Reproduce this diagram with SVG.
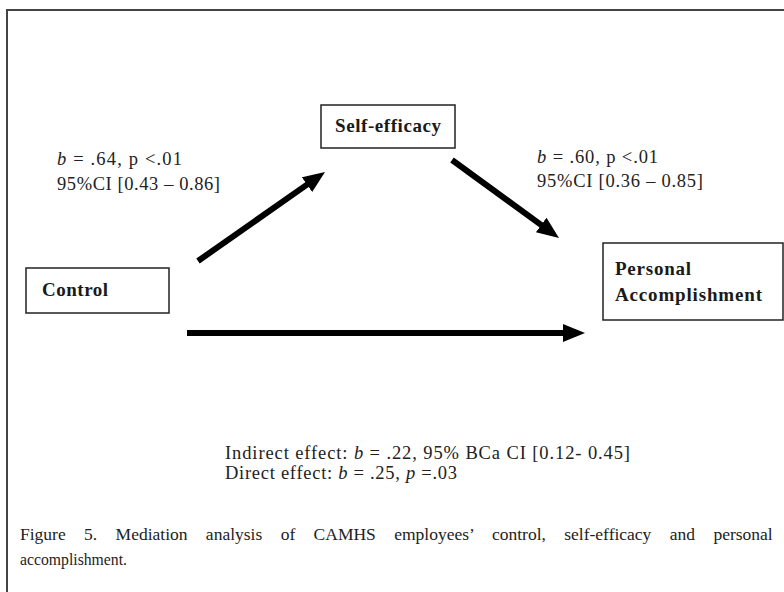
<svg xmlns="http://www.w3.org/2000/svg" width="784" height="592" viewBox="0 0 784 592">
<style>
.frame{fill:none;stroke:#444;stroke-width:2}
.box{fill:#fff;stroke:#222;stroke-width:1.5}
.nt{font-family:"Liberation Serif","Times New Roman",serif;font-size:19px;font-weight:bold;fill:#1a1a1a}
.t{font-family:"Liberation Serif","Times New Roman",serif;font-size:18.5px;fill:#222}
.cap{font-family:"Liberation Serif","Times New Roman",serif;font-size:17.5px;fill:#222}
.conn{stroke:#000;stroke-width:6;fill:none}
</style>
<defs>
<marker id="ah" markerUnits="userSpaceOnUse" markerWidth="24" markerHeight="20" refX="10" refY="9" orient="auto">
<path d="M0,0 L22,9 L0,18 z" fill="#000"/>
</marker>
</defs>
<rect width="784" height="592" fill="#fff"/>
<rect class="frame" x="7" y="10" width="790" height="600"/>
<g id="connectors">
<line class="conn" x1="198" y1="261" x2="315.2" y2="178.9" marker-end="url(#ah)"/>
<line class="conn" x1="452" y1="160" x2="549.3" y2="230.9" marker-end="url(#ah)"/>
<line class="conn" x1="187" y1="333" x2="573" y2="333" marker-end="url(#ah)"/>
</g>
<g id="self-efficacy">
<rect class="box" x="321" y="105" width="134" height="43"/>
<text class="nt" x="335" y="132" textLength="106">Self-efficacy</text>
</g>
<g id="control">
<rect class="box" x="26" y="268" width="143" height="45"/>
<text class="nt" x="42" y="296" textLength="66">Control</text>
</g>
<g id="personal-accomplishment">
<rect class="box" x="603" y="243" width="180" height="77"/>
<text class="nt" x="615" y="275" textLength="76">Personal</text>
<text class="nt" x="615" y="301" textLength="147">Accomplishment</text>
</g>
<g id="labels">
<text class="t" x="57" y="165" textLength="125"><tspan font-style="italic">b</tspan> = .64, p &lt;.01</text>
<text class="t" x="57" y="190" textLength="163">95%CI [0.43 – 0.86]</text>
<text class="t" x="537" y="163" textLength="121"><tspan font-style="italic">b</tspan> = .60, p &lt;.01</text>
<text class="t" x="537" y="187" textLength="166">95%CI [0.36 – 0.85]</text>
<text class="t" x="225" y="459" textLength="405">Indirect effect: <tspan font-style="italic">b</tspan> = .22, 95% BCa CI [0.12- 0.45]</text>
<text class="t" x="225" y="479" textLength="232">Direct effect: <tspan font-style="italic">b</tspan> = .25, <tspan font-style="italic">p</tspan> =.03</text>
<text class="cap" x="20" y="540" word-spacing="14">Figure 5. Mediation analysis of CAMHS employees’ control, self-efficacy and personal</text>
<text class="cap" x="20" y="565" textLength="107" lengthAdjust="spacingAndGlyphs">accomplishment.</text>
</g>
</svg>
